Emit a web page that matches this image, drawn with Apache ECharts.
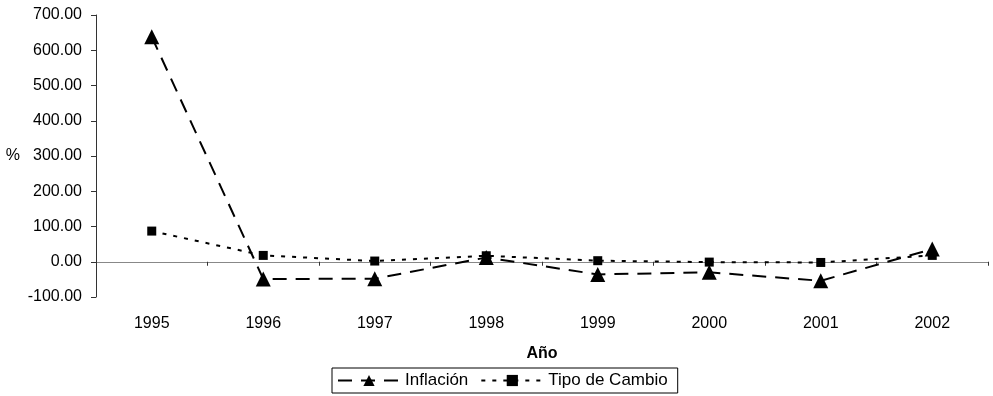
<!DOCTYPE html>
<html>
<head>
<meta charset="utf-8">
<script src="https://cdn.jsdelivr.net/npm/echarts@6/dist/echarts.min.js"></script>
<style>
html, body { margin: 0; padding: 0; background: #fff; }
#chart { width: 993px; height: 396px; }
</style>
</head>
<body>
<div id="chart"></div>
<script>
var years = ['1995', '1996', '1997', '1998', '1999', '2000', '2001', '2002'];
var inflacion = [638, -49, -48, 12, -36, -30, -54, 36];
var tipoCambio = [87, 18, 2, 17, 3, -1, -2, 18];

var chart = echarts.init(document.getElementById('chart'));
var font = 'Liberation Sans, Arial, sans-serif';

var option = {
    animation: false,
    backgroundColor: '#fff',
    textStyle: { fontFamily: font, color: '#000' },
    grid: { left: 96, right: 5, top: 15, bottom: 99 },
    legend: {
        left: 332,
        top: 368,
        itemWidth: 62,
        itemHeight: 14,
        itemGap: 12,
        padding: [4, 10, 4, 5],
        borderColor: '#000',
        borderWidth: 1,
        textStyle: { fontFamily: font, fontSize: 17, color: '#000' },
        data: ['Inflación', 'Tipo de Cambio']
    },
    xAxis: [{
        type: 'category',
        data: years,
        axisLine: { onZero: true, lineStyle: { color: '#888', width: 1 } },
        axisTick: { show: true, interval: 0, length: 4, lineStyle: { color: '#333' } },
        axisLabel: { show: false },
        splitLine: { show: false }
    }, {
        type: 'category',
        data: years,
        position: 'bottom',
        name: 'Año',
        nameLocation: 'middle',
        nameGap: 49,
        nameTextStyle: { fontFamily: font, fontSize: 16, fontWeight: 'bold', color: '#000' },
        axisLine: { show: false },
        axisTick: { show: false },
        axisLabel: { margin: 19, fontSize: 16, color: '#000', fontFamily: font }
    }],
    yAxis: {
        type: 'value',
        min: -100,
        max: 700,
        interval: 100,
        name: '%',
        nameLocation: 'middle',
        nameRotate: 0,
        nameGap: 76,
        nameTextStyle: { fontFamily: font, fontSize: 16, color: '#000' },
        axisLine: { show: true, lineStyle: { color: '#333', width: 1 } },
        axisTick: { show: true, length: 5, lineStyle: { color: '#333' } },
        axisLabel: {
            fontSize: 16, color: '#000', fontFamily: font, margin: 14,
            formatter: function (v) { return v.toFixed(2); }
        },
        splitLine: { show: false }
    },
    series: [{
        name: 'Inflación',
        type: 'line',
        xAxisIndex: 0,
        data: inflacion,
        symbol: 'triangle',
        symbolSize: 15,
        color: '#000',
        lineStyle: { color: '#000', width: 2, type: [14, 9] },
        itemStyle: { color: '#000' }
    }, {
        name: 'Tipo de Cambio',
        type: 'line',
        xAxisIndex: 0,
        data: tipoCambio,
        symbol: 'rect',
        symbolSize: 9,
        color: '#000',
        lineStyle: { color: '#000', width: 2, type: [4, 7] },
        itemStyle: { color: '#000' }
    }]
};

chart.setOption(option);
</script>
</body>
</html>
